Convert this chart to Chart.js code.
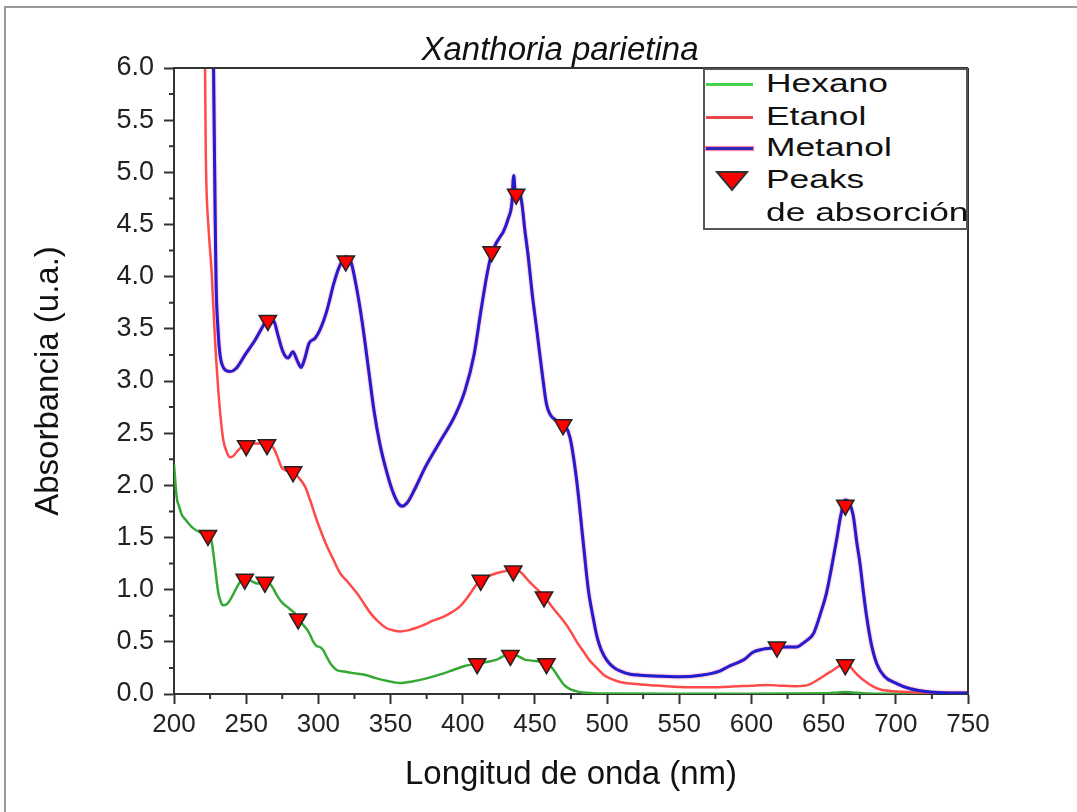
<!DOCTYPE html>
<html><head><meta charset="utf-8">
<script src="https://cdn.jsdelivr.net/npm/chart.js@4.4.1/dist/chart.umd.min.js"></script>
<style>
html,body{margin:0;padding:0;background:#fff;overflow:hidden;}
#wrap{position:relative;width:1077px;height:812px;overflow:hidden;}
#frame{position:absolute;left:4px;top:6px;width:1200px;height:1000px;border-left:2px solid #9a9a9a;border-top:2px solid #9a9a9a;}
canvas{position:absolute;left:0;top:0;}
#title{position:absolute;left:0;width:1120px;top:30px;line-height:40px;text-align:center;font:italic 33px "Liberation Sans",Arial,sans-serif;color:#111;}
#legend{position:absolute;left:703px;top:68px;width:265px;height:162px;box-sizing:border-box;border:2px solid #555;background:#fff;}
.row{position:absolute;left:0;width:260px;height:32px;}
.txt{position:absolute;left:61px;top:0;line-height:32px;font:26px "Liberation Sans",Arial,sans-serif;transform:scaleX(1.36);transform-origin:left center;white-space:nowrap;color:#111;}
.sample{position:absolute;left:1px;top:15px;width:47px;height:3px;}
</style></head>
<body>
<div id="wrap">
<div id="frame"></div>
<canvas id="c" width="1077" height="812"></canvas>
<div id="title">Xanthoria parietina</div>
<div id="legend">
  <div class="row" style="top:-2px"><div class="sample" style="background:#46d346"></div><div class="txt">Hexano</div></div>
  <div class="row" style="top:31px"><div class="sample" style="background:#e84848"></div><div class="txt">Etanol</div></div>
  <div class="row" style="top:62px"><div class="sample" style="background:#2b2bb8;box-shadow:0 0 1px 1px rgba(255,80,140,0.7)"></div><div class="txt">Metanol</div></div>
  <div class="row" style="top:94px"><svg style="position:absolute;left:10px;top:6px" width="34" height="22"><polygon points="2,2 32,2 17,20" fill="#ff0000" stroke="#333" stroke-width="2"/></svg><div class="txt">Peaks</div></div>
  <div class="row" style="top:127px"><div class="txt">de absorción</div></div>
</div>
</div>
<script>
// ---------- data ----------
const hexanoNm = [200,201.9,203.5,205.3,208,211,213.2,218,221,224,226.1,228.4,230.7,232.5,234.2,236.5,238.8,243.4,246,248.5,250.4,254,257.3,262,266,268.8,271.5,274.6,278,281.5,284,286.1,289,292,294.2,296.5,298.8,301,303.4,306,309,312.7,318,324.2,332,340.4,348,356.5,365,375,385,393.5,402,409.7,417.5,423.7,428,432.8,437,443.1,448,453.5,457.7,460,462.5,465,467.4,470,474,478,483,490,500,550,600,650,660,665,670,680,700,750];
const hexanoAbs = [2.20,1.88,1.80,1.72,1.67,1.62,1.59,1.55,1.54,1.52,1.46,1.22,0.97,0.88,0.85,0.86,0.90,1.02,1.08,1.10,1.10,1.08,1.06,1.06,1.06,1.01,0.94,0.88,0.84,0.80,0.77,0.72,0.67,0.62,0.57,0.50,0.46,0.45,0.42,0.35,0.28,0.23,0.215,0.20,0.185,0.15,0.125,0.105,0.12,0.15,0.19,0.23,0.27,0.29,0.31,0.33,0.36,0.38,0.37,0.33,0.32,0.31,0.30,0.28,0.24,0.19,0.14,0.09,0.05,0.03,0.015,0.008,0.005,0.003,0.003,0.006,0.015,0.02,0.015,0.005,0.002,0.0];

const etanolNm = [221,221.5,222,222.5,224,226.1,228.4,230.7,232.5,234.2,236.5,238.8,241,244,247,250,255,260,264.2,268.8,271.5,274.6,278,282.5,286,290.7,294.5,298.8,302,305.8,310,315,320,326.5,331,335.8,341,347.3,352,356.5,362,367,372.7,379,386.5,392,398.1,403,407,412,418,423.7,430,435,440,446.6,451,456.3,460,463.9,467.5,470.9,474.3,479,483.5,488,492.8,498,502,509,516,530,550,570,585,600,611,620,631,640,647.5,652,656.7,661,665,668,671,675.2,680,684.4,690,700,720,750];
const etanolAbs = [6.5,6.0,5.2,4.85,4.45,4.03,3.39,2.91,2.62,2.43,2.32,2.27,2.28,2.33,2.37,2.39,2.40,2.40,2.40,2.36,2.28,2.17,2.14,2.13,2.08,1.99,1.85,1.67,1.55,1.42,1.30,1.16,1.08,0.97,0.88,0.78,0.70,0.63,0.61,0.60,0.61,0.63,0.66,0.70,0.74,0.78,0.84,0.92,1.00,1.09,1.13,1.16,1.18,1.20,1.17,1.07,1.01,0.94,0.87,0.80,0.74,0.68,0.61,0.50,0.41,0.32,0.25,0.18,0.15,0.115,0.10,0.085,0.068,0.065,0.07,0.08,0.086,0.08,0.075,0.09,0.15,0.19,0.23,0.27,0.29,0.27,0.22,0.16,0.11,0.07,0.04,0.025,0.015,0.012];

const metanolNm = [227,227.4,228.4,229.1,230.5,231.9,234.6,238.8,243,249.2,256.1,261,265.1,269.3,272,275.5,279,282.4,285.2,288,290.7,293.5,297.7,301.1,306,310.8,315,319.1,322.6,326.1,330.2,334.4,338.5,342.7,346.9,351,355.2,358,361.4,367,373.9,384.3,394.7,401.6,407.8,412.7,416.8,419.6,422.4,425.8,428.1,431.6,434,435.3,436.5,439,441,443,445.4,448,451.2,455.8,458,460.5,464,467.4,470.5,474.3,478.9,483.5,487,490.5,493,496,500,505,511,516,523,537,550,565,578,585,595,601,608,614,618,625,631,637,643,648,652,656,659,662,665,667.5,670.6,673,675.2,677.5,679.8,683,686.8,692,700.6,710,723.7,740,750];
const metanolAbs = [6.5,6.0,4.73,3.97,3.49,3.25,3.12,3.09,3.12,3.25,3.39,3.51,3.60,3.57,3.44,3.28,3.22,3.28,3.20,3.13,3.22,3.36,3.41,3.49,3.68,3.94,4.11,4.19,4.14,3.92,3.58,3.15,2.72,2.39,2.15,1.96,1.83,1.80,1.83,1.97,2.17,2.42,2.67,2.91,3.25,3.68,4.02,4.20,4.30,4.38,4.43,4.56,4.70,4.97,4.80,4.82,4.70,4.45,4.19,3.85,3.50,2.99,2.78,2.68,2.63,2.61,2.58,2.46,2.05,1.45,1.00,0.72,0.55,0.42,0.32,0.25,0.21,0.19,0.18,0.17,0.165,0.18,0.22,0.27,0.33,0.40,0.43,0.44,0.45,0.45,0.45,0.50,0.58,0.78,0.97,1.25,1.48,1.72,1.86,1.84,1.70,1.45,1.25,0.98,0.74,0.48,0.29,0.17,0.10,0.05,0.02,0.01,0.01];

const peakNm  = [223.5,249,263,286,410,433,458, 250,264.4,282.5,412.5,435,456.3,665, 265,319,420,437,469.5,617.7,665];
const peakAbs = [1.52,1.10,1.07,0.72,0.29,0.37,0.29, 2.38,2.39,2.13,1.09,1.18,0.93,0.28, 3.58,4.15,4.24,4.79,2.58,0.45,1.81];

const xTicks = [200,250,300,350,400,450,500,550,600,650,700,750];
const yTicks = [0,0.5,1,1.5,2,2.5,3,3.5,4,4.5,5,5.5,6];

// ---------- helpers ----------
const pts = (xs, ys) => xs.map((x, i) => ({x, y: ys[i]}));
const FONT = '"Liberation Sans", Arial, sans-serif';

const shadowPlugin = {
  id: 'metShadow',
  beforeDatasetDraw(chart, args) {
    if (chart.data.datasets[args.index].label === 'Metanol') {
      chart.ctx.save();
      chart.ctx.shadowColor = 'rgba(255,60,130,0.85)';
      chart.ctx.shadowBlur = 2;
    }
  },
  afterDatasetDraw(chart, args) {
    if (chart.data.datasets[args.index].label === 'Metanol') chart.ctx.restore();
  }
};

const framePlugin = {
  id: 'frameTicks',
  afterDraw(chart) {
    const {ctx, chartArea: a, scales: {x, y}} = chart;
    ctx.save();
    ctx.strokeStyle = '#333';
    ctx.lineWidth = 2;
    ctx.beginPath();
    ctx.moveTo(a.left, a.top); ctx.lineTo(a.right, a.top);
    ctx.moveTo(a.right, a.top); ctx.lineTo(a.right, a.bottom);
    for (let i = 0; i < yTicks.length - 1; i++) {
      const py = y.getPixelForValue((yTicks[i] + yTicks[i + 1]) / 2);
      ctx.moveTo(a.left - 5, py); ctx.lineTo(a.left, py);
    }
    for (let i = 0; i < xTicks.length - 1; i++) {
      const px = x.getPixelForValue((xTicks[i] + xTicks[i + 1]) / 2);
      ctx.moveTo(px, a.bottom); ctx.lineTo(px, a.bottom + 5);
    }
    ctx.stroke();
    ctx.restore();
  }
};

new Chart(document.getElementById('c'), {
  type: 'scatter',
  data: {
    datasets: [
      { label: 'Peaks de absorción', data: pts(peakNm, peakAbs), showLine: false,
        pointStyle: 'triangle', rotation: 180, pointRadius: 10, pointBackgroundColor: '#ff0000',
        pointBorderColor: '#222', pointBorderWidth: 1.5 },
      { label: 'Metanol', data: pts(metanolNm, metanolAbs), showLine: true, pointRadius: 0,
        borderColor: '#1f1fd0', borderWidth: 3, cubicInterpolationMode: 'monotone' },
      { label: 'Etanol', data: pts(etanolNm, etanolAbs), showLine: true, pointRadius: 0,
        borderColor: '#ff4a4a', borderWidth: 2.5, cubicInterpolationMode: 'monotone' },
      { label: 'Hexano', data: pts(hexanoNm, hexanoAbs), showLine: true, pointRadius: 0,
        borderColor: '#36a836', borderWidth: 2.5, cubicInterpolationMode: 'monotone' }
    ]
  },
  options: {
    responsive: false, animation: false, devicePixelRatio: 1,
    layout: { padding: { top: 68, right: 109, bottom: 0, left: 0 } },
    plugins: { legend: { display: false }, tooltip: { enabled: false }, title: { display: false } },
    scales: {
      x: {
        type: 'linear', min: 200, max: 750,
        afterBuildTicks(s) { s.ticks = xTicks.map(v => ({value: v})); },
        afterFit(s) { s.height = 118; },
        ticks: { font: { family: FONT, size: 26 }, color: '#222', padding: 5, maxRotation: 0, autoSkip: false },
        grid: { drawOnChartArea: false, drawTicks: true, tickLength: 10, tickColor: '#333', tickWidth: 2 },
        border: { color: '#333', width: 2 },
        title: { display: true, text: 'Longitud de onda (nm)', color: '#111',
                 font: { family: FONT, size: 33 }, padding: { top: 0, bottom: 17 } }
      },
      y: {
        min: 0, max: 6,
        afterBuildTicks(s) { s.ticks = yTicks.map(v => ({value: v})); },
        afterFit(s) { s.width = 174; },
        ticks: { font: { family: FONT, size: 27 }, color: '#222', padding: 10,
                 callback: v => Number(v).toFixed(1) },
        grid: { drawOnChartArea: false, drawTicks: true, tickLength: 10, tickColor: '#333', tickWidth: 2 },
        border: { color: '#333', width: 2 },
        title: { display: true, text: 'Absorbancia (u.a.)', color: '#111',
                 font: { family: FONT, size: 33 }, padding: { top: 29, bottom: 0 } }
      }
    }
  },
  plugins: [shadowPlugin, framePlugin]
});
</script>
</body></html>
